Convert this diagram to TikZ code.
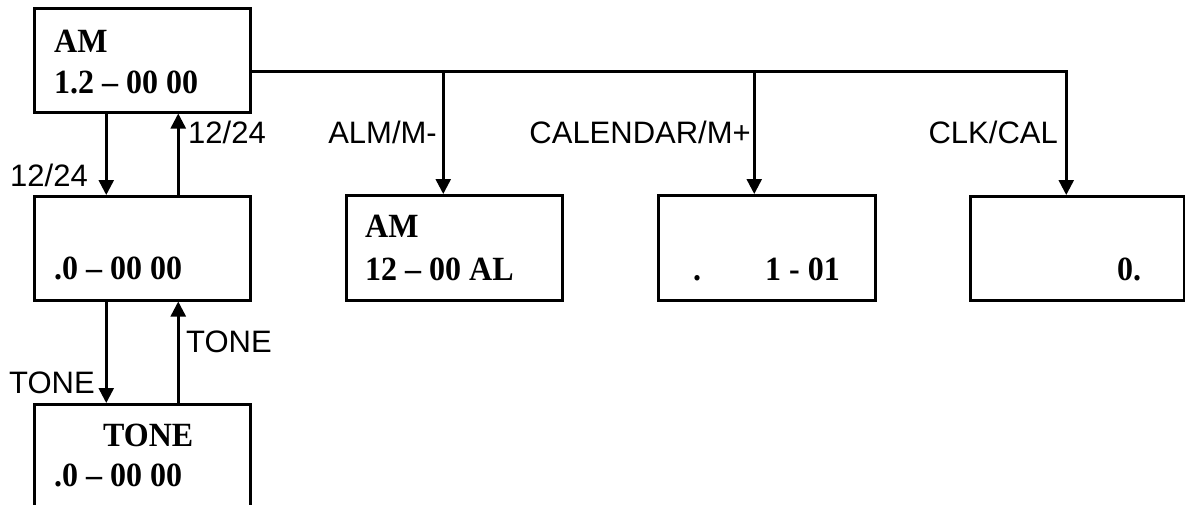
\documentclass[tikz,border=0pt]{standalone}
\usepackage{fontspec}
\usepackage{graphicx}
\setmainfont{Liberation Serif}
\newfontfamily\lsans{Liberation Sans}
\usetikzlibrary{arrows.meta}
\newcommand{\dsp}[1]{\scalebox{1}[1.06]{#1}}
\begin{document}
\begin{tikzpicture}[x=1pt,y=-1pt,
  box/.style={draw,line width=2.5pt,minimum width=216pt,minimum height=104pt,anchor=north west,inner sep=0pt},
  disp/.style={anchor=base west,inner sep=0pt,font=\fontsize{32}{32}\selectfont\bfseries},
  lbl/.style={inner sep=0pt,font=\fontsize{31}{31}\selectfont\lsans},
  arr/.style={line width=2.5pt,-{Triangle[width=15pt,length=15pt]}},
  bus/.style={line width=2.5pt}]
\clip (0,0) rectangle (1185,504);
\fill[white] (0,0) rectangle (1185,504);
% boxes
\node[box] (b1) at (33,7) {};
\node[box] (b2) at (33,195) {};
\node[box,minimum height=130pt] (b3) at (33,403) {};
\node[box,minimum height=105pt] (alm) at (345,194) {};
\node[box,minimum width=217pt,minimum height=105pt] (cal) at (657,194) {};
\node[box,minimum width=214pt,minimum height=104pt] (clk) at (969,195) {};
% display texts
\node[disp] (t1a) at (54,52) {\dsp{AM}};
\node[disp] (t1b) at (54,93) {\dsp{1.2 – 00 00}};
\node[disp] (t2) at (54,279) {\dsp{.0 – 00 00}};
\node[disp] (t3a) at (103,446) {\dsp{TONE}};
\node[disp] (t3b) at (54,486) {\dsp{.0 – 00 00}};
\node[disp] (t4a) at (365,237) {\dsp{AM}};
\node[disp] (t4b) at (365,280) {\dsp{12 – 00 AL}};
\node[disp] (t5a) at (693,280) {\dsp{.}};
\node[disp] (t5b) at (765,280) {\dsp{1 - 01}};
\node[disp] (t6) at (1117,280) {\dsp{0.}};
% vertical transitions
\draw[arr] ([xshift=-36pt]b1.south) -- ([xshift=-36pt]b2.north);
\draw[arr] ([xshift=36pt]b2.north) -- ([xshift=36pt]b1.south);
\draw[arr] ([xshift=-36pt]b2.south) -- ([xshift=-36pt]b3.north);
\draw[arr] ([xshift=36pt]b3.north) -- ([xshift=36pt]b2.south);
% bus
\coordinate (bs) at ([yshift=-11pt]b1.east);
\draw[arr] (bs) -| ([xshift=-11pt]clk.north);
\draw[arr] ([xshift=-11pt]alm.north |- bs) -- ([xshift=-11pt]alm.north);
\draw[arr] ([xshift=-12.5pt]cal.north |- bs) -- ([xshift=-12.5pt]cal.north);
% labels
\node[lbl,anchor=base east] (l1) at (88,186) {12/24};
\node[lbl,anchor=base west] (l2) at (188,143) {12/24};
\node[lbl,anchor=base east] (l3) at (95,393) {TONE};
\node[lbl,anchor=base west] (l4) at (186,352) {TONE};
\node[lbl,anchor=base east] (l5) at (437,143) {ALM/M-};
\node[lbl,anchor=base east] (l6) at (751,143) {CALENDAR/M+};
\node[lbl,anchor=base east] (l7) at (1058,143) {CLK/CAL};
\end{tikzpicture}
\end{document}
